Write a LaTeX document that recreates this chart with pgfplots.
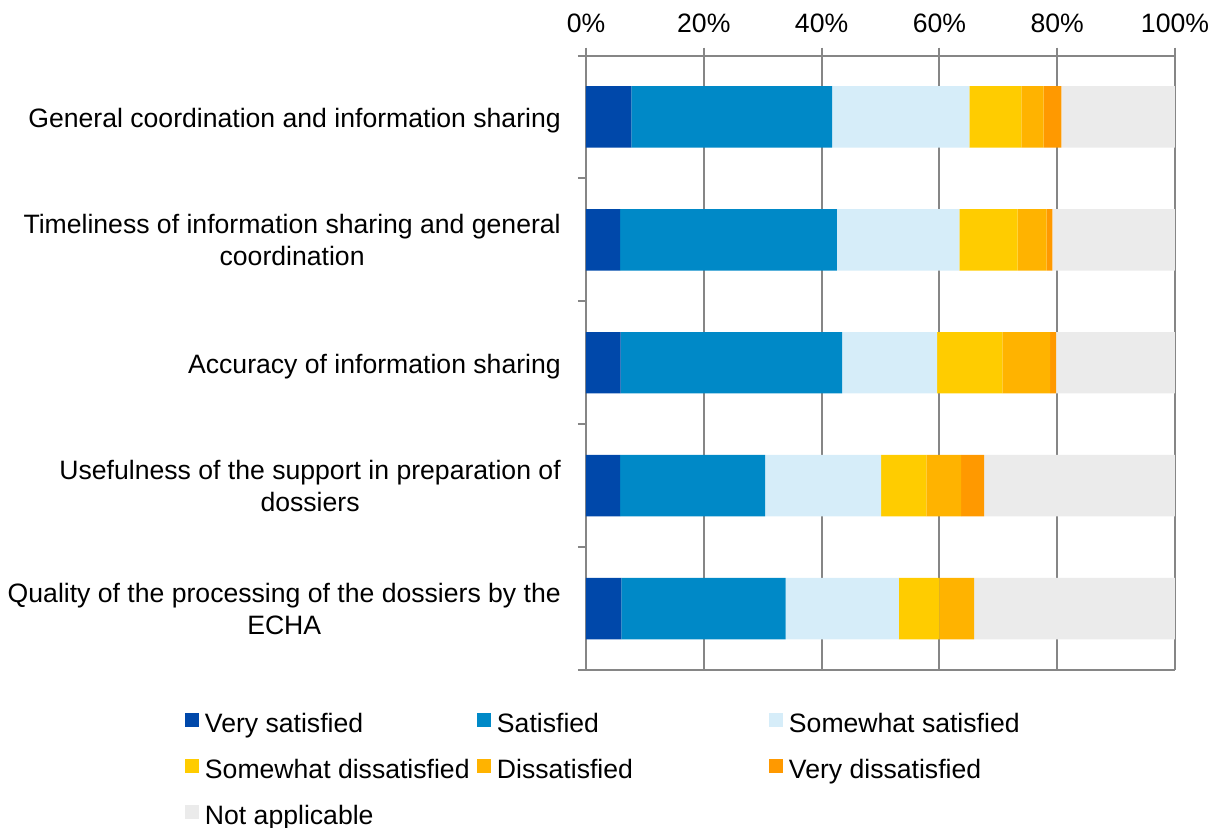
\documentclass[border=0pt]{standalone}
\usepackage{fontspec}
\setmainfont{Liberation Sans}
\usepackage{pgfplots}
\pgfplotsset{compat=1.18}

\definecolor{cVS}{RGB}{0,72,170}
\definecolor{cS}{RGB}{0,137,199}
\definecolor{cSwS}{RGB}{214,237,249}
\definecolor{cSwD}{RGB}{255,204,0}
\definecolor{cD}{RGB}{255,179,0}
\definecolor{cVD}{RGB}{255,153,0}
\definecolor{cNA}{RGB}{235,235,235}
\definecolor{gridgray}{RGB}{134,134,134}

\newcommand{\legtext}[1]{\makebox[133pt][l]{#1}}
% single-line labels sit a little lower than the centre of the band
\newcommand{\oneline}[1]{\raisebox{-5.3pt}[0pt][0pt]{#1}}

\begin{document}
\fontsize{13.3pt}{16pt}\selectfont
\begin{tikzpicture}
\useasboundingbox (-293pt,-78.5pt) rectangle (317.5pt,335pt);
\begin{axis}[
    at={(0,0)}, anchor=origin,
    scale only axis,
    width=294.5pt, height=307.25pt,
    xbar stacked,
    bar width=0.5,
    xmin=0, xmax=100,
    ymin=0, ymax=5,
    separate axis lines,
    axis line style={draw=gridgray, line width=1pt},
    every outer x axis line/.append style={draw=gridgray, line width=1pt},
    every outer y axis line/.append style={draw=gridgray, line width=1pt},
    xtick pos=upper,
    xticklabel pos=upper,
    ytick pos=lower,
    xtick={0,20,40,60,80,100},
    xticklabel={\pgfmathprintnumber{\tick}\%},
    x tick label style={yshift=2.5pt},
    xmajorgrids,
    grid style={draw=gridgray, line width=1pt},
    tick style={draw=gridgray, line width=1pt},
    major tick length=4pt,
    tick align=outside,
    ytick={0,1,2,3,4,5},
    yticklabels={},
    extra y ticks={0.5,1.5,2.5,3.5,4.5},
    extra y tick labels={
        Quality of the processing of the dossiers by the\\ECHA,
        Usefulness of the support in preparation of\\dossiers,
        \oneline{Accuracy of information sharing},
        Timeliness of information sharing and general\\coordination,
        \oneline{General coordination and information sharing}},
    extra y tick style={major tick length=0pt, grid=none,
        yticklabel style={align=center, xshift=-8pt}},
    /pgf/number format/assume math mode=true,
    legend columns=3,
    legend cell align=left,
    legend image code/.code={\fill[#1] (0pt,-0.5pt) rectangle (7pt,6.5pt);},
    legend style={draw=none, fill=none, inner sep=0pt, outer sep=0pt,
        at={(0,0)}, anchor=north west, xshift=-200.5pt, yshift=-21.5pt,
        nodes={inner xsep=3pt, inner ysep=0pt, text height=9.6pt, text depth=2.8pt},
        /tikz/row sep=10.2pt},
]
\addplot[fill=cVS, draw=none] coordinates {(7.7,4.5) (5.8,3.5) (5.9,2.5) (5.8,1.5) (6.0,0.5)};
\addlegendentry{\legtext{Very satisfied}}
\addplot[fill=cS, draw=none] coordinates {(34.1,4.5) (36.8,3.5) (37.6,2.5) (24.6,1.5) (27.9,0.5)};
\addlegendentry{\legtext{Satisfied}}
\addplot[fill=cSwS, draw=none] coordinates {(23.3,4.5) (20.8,3.5) (16.1,2.5) (19.7,1.5) (19.2,0.5)};
\addlegendentry{\legtext{Somewhat satisfied}}
\addplot[fill=cSwD, draw=none] coordinates {(8.8,4.5) (9.9,3.5) (11.1,2.5) (7.7,1.5) (6.9,0.5)};
\addlegendentry{\legtext{Somewhat dissatisfied}}
\addplot[fill=cD, draw=none] coordinates {(3.8,4.5) (4.9,3.5) (8.1,2.5) (5.9,1.5) (5.9,0.5)};
\addlegendentry{\legtext{Dissatisfied}}
\addplot[fill=cVD, draw=none] coordinates {(3.0,4.5) (1.0,3.5) (1.0,2.5) (3.9,1.5) (0,0.5)};
\addlegendentry{\legtext{Very dissatisfied}}
\addplot[fill=cNA, draw=none] coordinates {(19.3,4.5) (20.8,3.5) (20.2,2.5) (32.4,1.5) (34.1,0.5)};
\addlegendentry{\legtext{Not applicable}}
\end{axis}
\end{tikzpicture}
\end{document}
